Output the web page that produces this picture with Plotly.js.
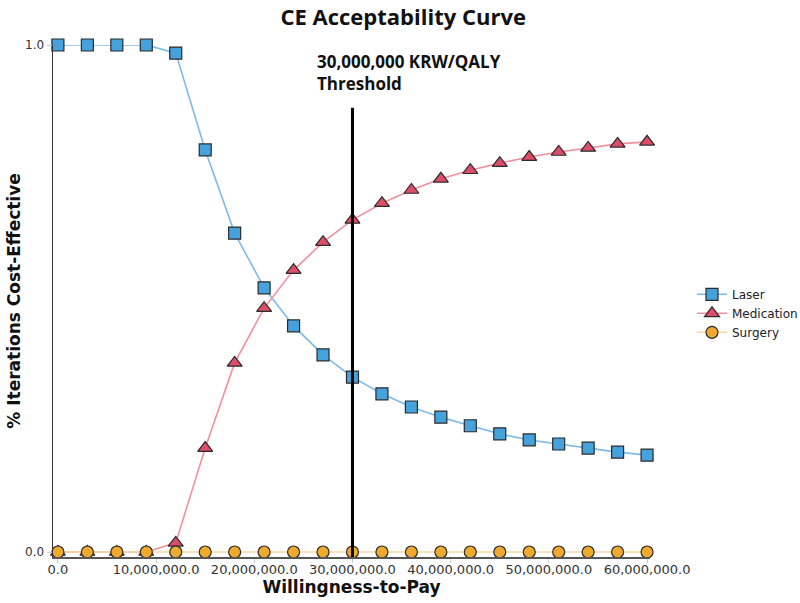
<!DOCTYPE html>
<html>
<head>
<meta charset="utf-8">
<script src="https://cdn.plot.ly/plotly-3.0.1.min.js"></script>
<style>html,body{margin:0;padding:0;background:#fff;}#chart{width:800px;height:603px;}</style>
</head>
<body>
<div id="chart"></div>
<script>
// Willingness-to-pay values (KRW)
const wtp = [0, 3e6, 6e6, 9e6, 12e6, 15e6, 18e6, 21e6, 24e6, 27e6, 30e6, 33e6, 36e6, 39e6, 42e6, 45e6, 48e6, 51e6, 54e6, 57e6, 60e6];
// Probability cost-effective per strategy
const laser      = [1.0, 1.0, 1.0, 1.0, 0.984, 0.793, 0.629, 0.521, 0.446, 0.389, 0.345, 0.312, 0.286, 0.266, 0.249, 0.233, 0.221, 0.213, 0.205, 0.197, 0.191];
const medication = [0.0, 0.0, 0.0, 0.0, 0.018, 0.205, 0.373, 0.481, 0.556, 0.611, 0.655, 0.688, 0.714, 0.736, 0.753, 0.767, 0.779, 0.789, 0.797, 0.805, 0.809];
const surgery    = [0, 0, 0, 0, 0, 0, 0, 0, 0, 0, 0, 0, 0, 0, 0, 0, 0, 0, 0, 0, 0];
const seriesNames = ['Laser', 'Medication', 'Surgery'];
const xTickVals = [0, 10e6, 20e6, 30e6, 40e6, 50e6, 60e6];
const xTickText = ['0.0', '10,000,000.0', '20,000,000.0', '30,000,000.0', '40,000,000.0', '50,000,000.0', '60,000,000.0'];
const yTickVals = [0, 1];
const yTickText = ['0.0', '1.0'];
const threshold = 30e6;
const thresholdTop = 0.876;

const mline = {color: '#2b2b2b', width: 1.2};
const traces = [
  {x: wtp, y: laser, name: seriesNames[0], mode: 'lines+markers', cliponaxis: false,
   line: {color: '#7cbbe8', width: 1.6},
   marker: {symbol: 'square', size: 12, color: '#45a2dc', line: mline}},
  {x: wtp, y: medication, name: seriesNames[1], mode: 'lines+markers', cliponaxis: false,
   line: {color: '#f2909f', width: 1.6},
   marker: {symbol: 'triangle-up', size: 13, color: '#dd4d68', line: mline}},
  {x: wtp, y: surgery, name: seriesNames[2], mode: 'lines+markers', cliponaxis: false,
   line: {color: '#f6d8a4', width: 1.6},
   marker: {symbol: 'circle', size: 12, color: '#eeaa2e', line: mline}}
];

const layout = {
  width: 800, height: 603,
  margin: {l: 53, r: 150, t: 45, b: 46},
  paper_bgcolor: '#ffffff', plot_bgcolor: '#ffffff',
  title: {text: '<b>CE Acceptability Curve</b>', x: 0.504, xanchor: 'center',
          yref: 'container', y: 0.971, yanchor: 'middle',
          font: {family: 'Liberation Sans Narrow, Open Sans, sans-serif', size: 22, color: '#111'}},
  xaxis: {range: [-0.5e6, 60.3e6], tickvals: xTickVals, ticktext: xTickText,
          showgrid: false, zeroline: false, showline: true, linecolor: '#555', linewidth: 1.5,
          ticks: 'outside', ticklen: 4, tickcolor: '#cccccc', ticklabelstandoff: -4,
          tickfont: {family: 'DejaVu Sans, Verdana, sans-serif', size: 13, color: '#333'},
          title: {text: '<b>Willingness-to-Pay</b>', standoff: 2,
                  font: {family: 'DejaVu Sans, Verdana, sans-serif', size: 17, color: '#111'}},
          automargin: false},
  yaxis: {range: [-0.00986, 1.0], tickvals: yTickVals, ticktext: yTickText,
          showgrid: false, zeroline: false, showline: true, linecolor: '#333', linewidth: 1.5,
          ticks: 'outside', ticklen: 5, tickcolor: '#cccccc',
          tickfont: {family: 'DejaVu Sans, Verdana, sans-serif', size: 12, color: '#333'},
          title: {text: '<b>% Iterations Cost-Effective</b>', standoff: 0,
                  font: {family: 'DejaVu Sans, Verdana, sans-serif', size: 17, color: '#111'}},
          automargin: false},
  legend: {xref: 'container', yref: 'container', x: 0.865, xanchor: 'left', y: 0.536, yanchor: 'top',
           bgcolor: 'rgba(0,0,0,0)', tracegroupgap: 0,
           font: {family: 'DejaVu Sans, Verdana, sans-serif', size: 12, color: '#222'}},
  shapes: [{type: 'line', xref: 'x', yref: 'y', x0: threshold, x1: threshold, y0: -0.00986, y1: thresholdTop,
            line: {color: '#000', width: 3}}],
  annotations: [{xref: 'x', yref: 'y', x: 26.2e6, y: 0.995, xanchor: 'left', yanchor: 'top', align: 'left',
                 showarrow: false, text: '<b>30,000,000 KRW/QALY<br>Threshold</b>',
                 font: {family: 'Liberation Sans Narrow, Open Sans, sans-serif', size: 17, color: '#111'}}],
  showlegend: true
};

Plotly.newPlot('chart', traces, layout, {displayModeBar: false, staticPlot: true});
</script>
</body>
</html>
